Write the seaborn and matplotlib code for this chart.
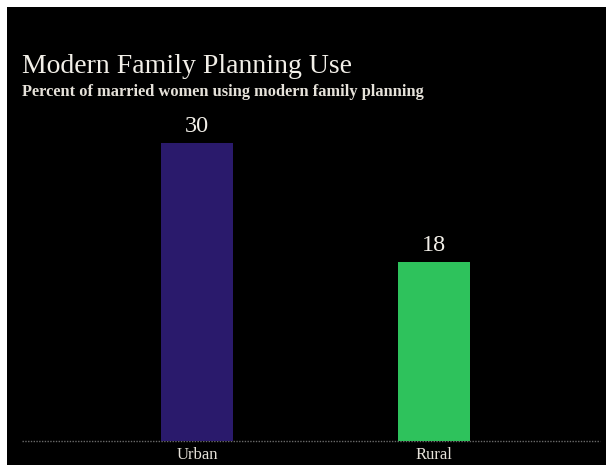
import matplotlib
matplotlib.use("Agg")
import matplotlib.pyplot as plt
import seaborn as sns
import pandas as pd

# Data
categories = ["Urban", "Rural"]
values = [30, 18]
bar_colors = ["#2a1a6c", "#2ec25c"]

df = pd.DataFrame({"area": categories, "pct": values})

sns.set_theme(style="white")
plt.rcParams["font.family"] = ["Liberation Serif", "DejaVu Serif"]

W, H = 606, 465
fig = plt.figure(figsize=(W / 100, H / 100), dpi=100, facecolor="white")

# Black panel behind the chart
bg = fig.add_axes([7 / W, 0, 1 - 7 / W, 1 - 7 / H], zorder=-5)
bg.set_facecolor("black")
bg.set_xticks([])
bg.set_yticks([])
for s in bg.spines.values():
    s.set_visible(False)

# Axes placed so the baseline sits near the bottom of the panel
base_px = 441
top_px = 7
ax = fig.add_axes([7 / W, (H - base_px) / H, 1 - 7 / W, (base_px - top_px) / H],
                  zorder=1)
ax.set_facecolor("none")

sns.barplot(data=df, x="area", y="pct", hue="area", palette=bar_colors,
            order=categories, hue_order=categories, width=0.304,
            saturation=1, linewidth=0, legend=False, ax=ax, zorder=2)

# x: category 0 at 197 px, category 1 at 434 px
step = 237
ax.set_xlim((7 - 197) / step, (606 - 197) / step)
ax.set_ylim(0, (base_px - top_px) * 30 / 298)

for spine in ax.spines.values():
    spine.set_visible(False)
ax.set_yticks([])
ax.set_xlabel("")
ax.set_ylabel("")
ax.tick_params(axis="x", length=0, pad=4, labelsize=12, labelcolor="#e6e2da")

# dotted baseline
x0 = (22 - 197) / step
x1 = (600 - 197) / step
ax.plot([x0, x1], [0, 0], linestyle=(0, (1, 1)), color="#6a6a6a", lw=1.0,
        zorder=1, clip_on=False)

# value labels
for i, v in enumerate(values):
    ax.text(i, v + 0.6, f"{v}", ha="center", va="bottom", fontsize=17.5,
            color="#f2efe8")

# titles
fig.text(22 / W, 1 - 73 / H, "Modern Family Planning Use", fontsize=20,
         color="#f2efe8", ha="left", va="baseline")
fig.text(22 / W, 1 - 96 / H, "Percent of married women using modern family planning",
         fontsize=11.8, color="#e6e2da", ha="left", va="baseline", weight="bold")

fig.savefig("out.png", dpi=100, facecolor="white")
